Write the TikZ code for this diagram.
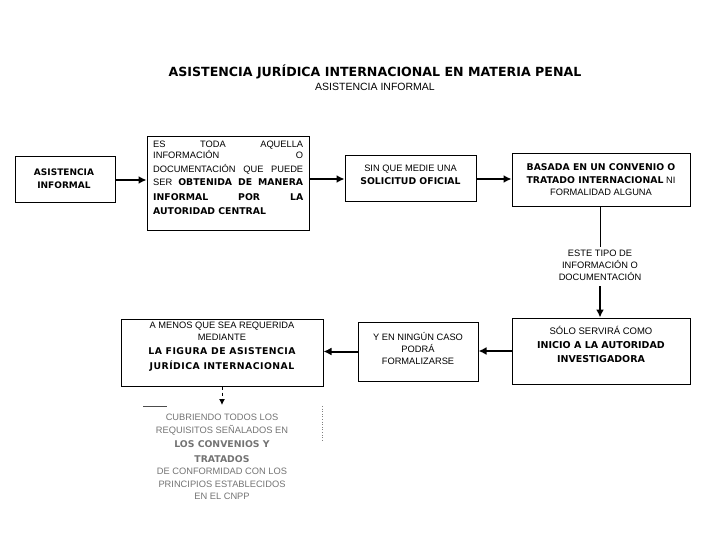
\documentclass[tikz,border=0pt]{standalone}
\usepackage{fontspec}
\setmainfont{Liberation Sans}
\newfontfamily\dv{DejaVu Sans}
\newfontfamily\dvs{DejaVu Sans}[LetterSpace=5]
\usetikzlibrary{arrows.meta,calc}
\newcommand\jline[1]{\hbox to 150pt{#1}}
\newcommand\bk[1]{{\dv\bfseries #1}}
\newcommand\bks[1]{{\dvs\bfseries #1}}
\tikzset{
  box/.style={draw=black, line width=1pt, rectangle, inner sep=0pt},
  txt/.style={align=center, font=\fontsize{9.3}{12.5}\selectfont, inner sep=0pt},
  conn/.style={line width=2pt, -{Latex[length=8pt,width=8pt]}},
  plain/.style={line width=1pt}
}
\begin{document}
\begin{tikzpicture}[x=1pt,y=-1pt]
\useasboundingbox (0,0) rectangle (720,540);
% titles
\node[inner sep=0pt, font=\fontsize{12.6}{15}\selectfont\dv\bfseries] (title) at (375,72) {ASISTENCIA JURÍDICA INTERNACIONAL EN MATERIA PENAL};
\node[inner sep=0pt, font=\fontsize{10.5}{12}\selectfont] (sub) at (375,87) {ASISTENCIA INFORMAL};
% boxes
\node[box, minimum width=100pt, minimum height=46pt] (A) at (65,180) {};
\node[txt, font=\fontsize{9}{13}\selectfont\dv\bfseries] (At) at (64,179) {ASISTENCIA\\INFORMAL};
\node[box, minimum width=162pt, minimum height=94pt] (B) at (228,184) {};
\node[txt, align=left, font=\fontsize{9.3}{13.2}\selectfont, anchor=north west] (Bt) at (153,141) {%
\jline{ES\hfill TODA\hfill AQUELLA}\\[-2pt]
\jline{INFORMACIÓN\hfill O}\\
\jline{DOCUMENTACIÓN\hfill QUE\hfill PUEDE}\\
\jline{SER\hfill \bk{OBTENIDA}\hfill \bk{DE}\hfill \bk{MANERA}}\\[2pt]
\jline{\bk{INFORMAL}\hfill \bk{POR}\hfill \bk{LA}}\\[1pt]
\jline{\bk{AUTORIDAD CENTRAL}\hfill}};
\node[box, minimum width=131pt, minimum height=46pt] (C) at (410.5,179) {};
\node[txt] (Ct) at (410.5,175) {SIN QUE MEDIE UNA\\\bk{SOLICITUD OFICIAL}};
\node[box, minimum width=178pt, minimum height=53pt] (D) at (601,180.5) {};
\node[txt] (Dt) at (601,180) {\bk{BASADA EN UN CONVENIO O}\\\bk{TRATADO INTERNACIONAL} NI\\FORMALIDAD ALGUNA};
\node[txt, font=\fontsize{9.3}{12}\selectfont] (T) at (600,265) {ESTE TIPO DE\\INFORMACIÓN O\\DOCUMENTACIÓN};
\node[box, minimum width=178pt, minimum height=66pt] (E) at (601,351) {};
\node[txt, font=\fontsize{9.5}{14}\selectfont] (Et) at (601,344) {SÓLO SERVIRÁ COMO\\\bk{INICIO A LA AUTORIDAD}\\\bk{INVESTIGADORA}};
\node[box, minimum width=120pt, minimum height=59pt] (F) at (418,351.5) {};
\node[txt, font=\fontsize{9.3}{12}\selectfont] (Ft) at (418,349) {Y EN NINGÚN CASO\\PODRÁ\\FORMALIZARSE};
\node[box, minimum width=202pt, minimum height=67pt] (G) at (222,352.5) {};
\node[txt, font=\fontsize{9.3}{12}\selectfont] (Gt) at (222,347) {A MENOS QUE SEA REQUERIDA\\MEDIANTE\\[2pt]\bks{LA FIGURA DE ASISTENCIA}\\[3pt]\bks{JURÍDICA INTERNACIONAL}};
\node[txt, text=black!55, font=\fontsize{9.3}{12.5}\selectfont] (H) at (222,457) {CUBRIENDO TODOS LOS\\REQUISITOS SEÑALADOS EN\\[2pt]\bk{LOS CONVENIOS Y}\\[2pt]\bk{TRATADOS}\\DE CONFORMIDAD CON LOS\\PRINCIPIOS ESTABLECIDOS\\EN EL CNPP};
\coordinate (Htop) at (222,405);
% connectors
\draw[conn] (A.east) -- (A.east -| B.west);
\draw[conn] (C.west -| B.east) -- (C.west);
\draw[conn] (C.east) -- (C.east -| D.west);
\draw[plain] (T.north |- D.south) -- ($(T.north)+(0,-3)$);
\draw[conn] ($(T.south)+(0,6)$) -- (T.south |- E.north);
\draw[conn] (E.west) -- (E.west -| F.east);
\draw[conn] (F.west) -- (F.west -| G.east);
\draw[line width=1pt, dashed, -{Latex[length=6pt,width=6pt]}] (G.south) -- (Htop);
\draw[line width=0.8pt, black!70] (143,406) -- (167,406);
\draw[line width=0.6pt, black!50, dotted] (322,406) -- (322,440);
\end{tikzpicture}
\end{document}
